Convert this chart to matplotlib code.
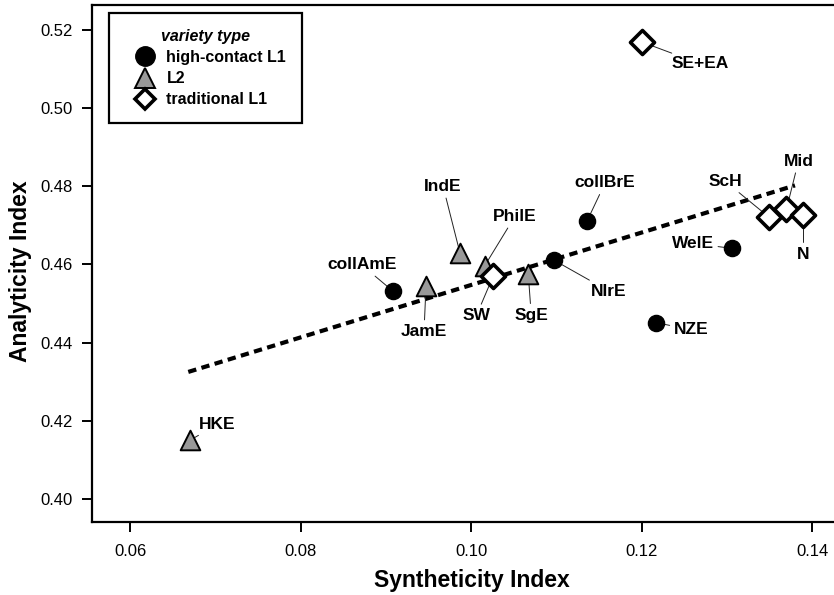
import matplotlib
matplotlib.use("Agg")
import matplotlib.pyplot as plt
from matplotlib.lines import Line2D

plt.rcParams['font.family'] = ['Liberation Sans', 'DejaVu Sans']

# ---- data ----
hc_names = ["collAmE", "NIrE", "collBrE", "WelE", "NZE"]
hc_x = [0.0908, 0.1097, 0.1136, 0.1306, 0.1217]
hc_y = [0.4532, 0.4611, 0.4711, 0.4641, 0.4451]

l2_names = ["HKE", "IndE", "PhilE", "JamE", "SgE"]
l2_x = [0.0670, 0.0987, 0.1016, 0.0947, 0.1067]
l2_y = [0.4150, 0.4628, 0.4597, 0.4546, 0.4575]

tr_names = ["SW", "ScH", "Mid", "N", "SE+EA"]
tr_x = [0.1026, 0.1350, 0.1370, 0.1390, 0.1200]
tr_y = [0.4571, 0.4720, 0.4741, 0.4726, 0.5169]

trend_x = [0.0668, 0.1380]
trend_y = [0.4325, 0.4802]

x_ticks = [0.06, 0.08, 0.10, 0.12, 0.14]
y_ticks = [0.40, 0.42, 0.44, 0.46, 0.48, 0.50, 0.52]

# label offsets (pixels: dx right, dy up)
label_offsets = {
    "HKE": (27, 16), "collAmE": (-31, 26), "IndE": (-17, 67), "PhilE": (30, 49),
    "JamE": (-2, -46), "SW": (-17, -40), "SgE": (3, -41), "NIrE": (55, -31),
    "collBrE": (18, 38), "WelE": (-39, 5), "NZE": (35, -7), "ScH": (-44, 36),
    "Mid": (12, 48), "N": (0, -39), "SE+EA": (59, -22),
}

fig = plt.figure(figsize=(8.34, 5.95), dpi=100)
ax = fig.add_axes([92/834, 73/595, 742/834, 517/595])
ax.set_xlim(0.0555, 0.14258)
ax.set_ylim(0.39412, 0.52634)

for s in ["left", "bottom", "top"]:
    ax.spines[s].set_linewidth(1.6)
ax.spines["right"].set_visible(False)
ax.tick_params(direction="out", length=7, width=1.4, labelsize=12, pad=7,
               top=False, right=False)
ax.tick_params(axis="x", pad=9)
ax.set_xticks(x_ticks)
ax.set_xticklabels([f"{v:.2f}" for v in x_ticks])
ax.set_yticks(y_ticks)
ax.set_yticklabels([f"{v:.2f}" for v in y_ticks])

ax.set_xlabel("Syntheticity Index", fontsize=16.5, fontweight="bold")
ax.set_ylabel("Analyticity Index", fontsize=16.5, fontweight="bold")
ax.xaxis.set_label_coords(0.512, -0.091)
ax.yaxis.set_label_coords(-0.081, 0.485)

ax.plot(trend_x, trend_y, color="black", lw=3, linestyle=(0, (2.0, 1.3)),
        dash_capstyle="butt", zorder=2)

ax.scatter(hc_x, hc_y, marker="o", s=135, color="black", zorder=4)
ax.scatter(l2_x, l2_y, marker="^", s=200, facecolor="#999999",
           edgecolor="black", linewidths=1.4, zorder=4)
ax.scatter(tr_x, tr_y, marker="D", s=150, facecolor="white",
           edgecolor="black", linewidths=2.6, zorder=5)

for names, xs, ys in [(hc_names, hc_x, hc_y), (l2_names, l2_x, l2_y),
                      (tr_names, tr_x, tr_y)]:
    for n, x, y in zip(names, xs, ys):
        dx, dy = label_offsets[n]
        ax.annotate(n, (x, y), xytext=(dx * 0.72, dy * 0.72),
                    textcoords="offset points", ha="center", va="center",
                    fontsize=12.5, fontweight="bold", zorder=3,
                    arrowprops=dict(arrowstyle="-", lw=0.7, color="#222222",
                                    shrinkA=1, shrinkB=0))

handles = [
    Line2D([], [], marker="o", ls="", color="black", markersize=14),
    Line2D([], [], marker="^", ls="", markerfacecolor="#999999",
           markeredgecolor="black", markeredgewidth=1.4, markersize=14),
    Line2D([], [], marker="D", ls="", markerfacecolor="white",
           markeredgecolor="black", markeredgewidth=2.6, markersize=10.5),
]
leg = ax.legend(handles, ["high-contact L1", "L2", "traditional L1"],
                title="variety type", loc="upper left",
                bbox_to_anchor=(0.0229, 0.9845), borderaxespad=0,
                frameon=True, fancybox=False,
                edgecolor="black", framealpha=1, borderpad=1.0,
                handletextpad=0.1, labelspacing=0.38, handlelength=2.5,
                prop=dict(weight="bold", size=11.5))
leg.get_frame().set_linewidth(1.6)
leg.get_title().set_fontweight("bold")
leg.get_title().set_fontstyle("italic")
leg.get_title().set_fontsize(11.5)
leg.set_zorder(10)

fig.savefig("out.png", dpi=100)
